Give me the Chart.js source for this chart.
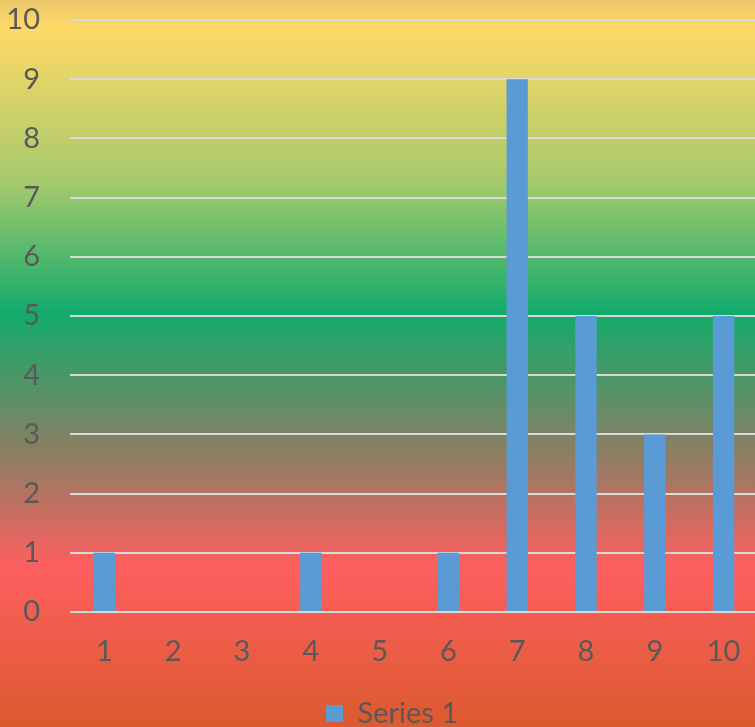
<!DOCTYPE html>
<html><head><meta charset="utf-8">
<script src="https://cdn.jsdelivr.net/npm/chart.js@4/dist/chart.umd.min.js"></script>
<style>
html,body{margin:0;padding:0;width:755px;height:727px;overflow:hidden;background:#e05b33;}
#wrap{width:762px;height:727px;position:relative;}
</style></head>
<body><div id="wrap"><canvas id="c" width="762" height="727"></canvas></div>
<script>
const categories = ['1','2','3','4','5','6','7','8','9','10'];
const seriesName = 'Series 1';
const seriesValues = [1,0,0,1,0,1,9,5,3,5];
const yTicks = [0,1,2,3,4,5,6,7,8,9,10];

const bgPlugin = {
  id:'bg',
  beforeDraw(chart){
    const {ctx,width,height} = chart;
    const g = ctx.createLinearGradient(0,0,0,height);
    g.addColorStop(0,'#ecc86a');
    g.addColorStop(0.04,'#ffd966');
    g.addColorStop(0.25,'#a6ca6c');
    g.addColorStop(0.43,'#12ab6c');
    g.addColorStop(0.62,'#8a7f63');
    g.addColorStop(0.78,'#fe5f5f');
    g.addColorStop(1,'#db5a2e');
    ctx.save();ctx.fillStyle=g;ctx.fillRect(0,0,width,height);ctx.restore();
  },
  afterLayout(chart){
    const lg = chart.legend;
    if(lg){ lg.left += 13; lg.right += 13; lg.top += 11; lg.bottom += 11; }
  }
};
const FONT = {family:'Lato',size:29};
new Chart(document.getElementById('c'),{
  type:'bar',
  data:{labels:categories,datasets:[{label:seriesName,data:seriesValues,backgroundColor:'#5b9bd5',barPercentage:0.31,categoryPercentage:1}]},
  options:{
    responsive:false,animation:false,
    layout:{padding:{top:20,left:0,right:4,bottom:0}},
    plugins:{
      legend:{position:'bottom',labels:{color:'#595959',font:FONT,boxWidth:17,boxHeight:17,padding:10}},
      tooltip:{enabled:false}
    },
    scales:{
      x:{grid:{display:false},border:{display:false},ticks:{color:'#595959',font:FONT,padding:14},
         afterFit(s){s.height=66;s.paddingLeft=0;s.paddingRight=0;}},
      y:{min:0,max:10,afterBuildTicks(s){s.ticks=yTicks.map(v=>({value:v}));},
         grid:{color:'#d9d9d9',lineWidth:2,drawTicks:false},border:{display:false},
         ticks:{color:'#595959',font:FONT,padding:30},
         afterFit(s){s.width=70;s.paddingTop=0;s.paddingBottom=0;}}
    }
  },
  plugins:[bgPlugin]
});
</script></body></html>
